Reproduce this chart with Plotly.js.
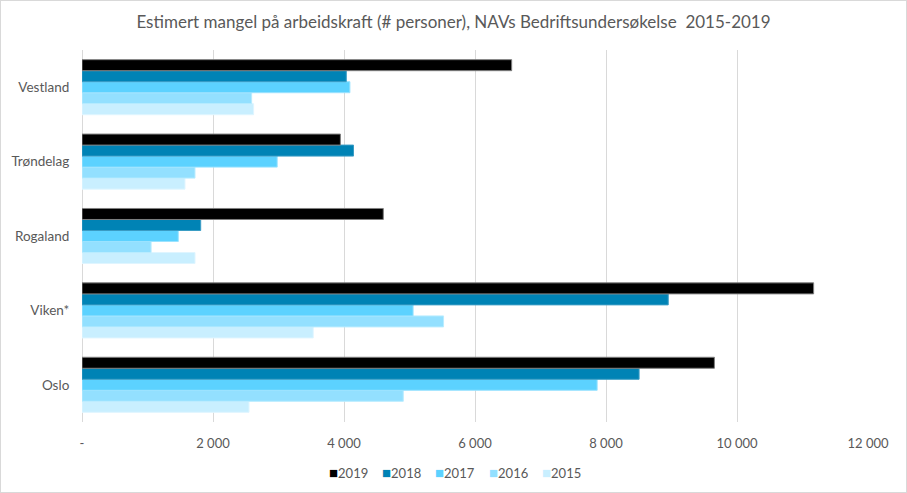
<!DOCTYPE html>
<html><head><meta charset="utf-8">
<script src="https://cdn.plot.ly/plotly-3.0.1.min.js"></script>
<style>body{margin:0;padding:0;background:#fff}#wrap{position:relative;width:907px;height:493px}#chart{width:907px;height:493px}#frame{position:absolute;left:0;top:0;width:907px;height:493px;box-sizing:border-box;border:1px solid #d9d9d9;pointer-events:none}</style>
</head><body>
<div id="wrap"><div id="chart"></div><div id="frame"></div></div>
<script>
// categories listed bottom to top (Plotly category axis)
const regions = ['Oslo', 'Viken*', 'Rogaland', 'Trøndelag', 'Vestland'];
const v2019 = [9655, 11170, 4600, 3945, 6560];
const v2018 = [8505, 8950, 1812, 4145, 4035];
const v2017 = [7865, 5055, 1470, 2980, 4090];
const v2016 = [4905, 5520, 1055, 1725, 2590];
const v2015 = [2550, 3530, 1725, 1572, 2620];
const years = ['2015', '2016', '2017', '2018', '2019'];
const colors = ['#c9efff', '#93e0ff', '#5cd2ff', '#0083b5', '#000000'];
const lines = ['#dff5ff', '#b9ecff', '#9be3ff', '#3a9cc4', '#7f7f7f'];
const tickVals = [0, 2000, 4000, 6000, 8000, 10000, 12000];
const tickText = ['-', '2 000', '4 000', '6 000', '8 000', '10 000', '12 000'];

const series = [v2015, v2016, v2017, v2018, v2019];
const traces = series.map((vals, i) => ({
  type: 'bar', orientation: 'h', name: years[i], y: regions, x: vals,
  marker: {color: colors[i], line: {color: lines[i], width: 1}},
  hoverinfo: 'x+name', showlegend: false
}));

// compact legend (Excel style), listed 2019 first
const legendOrder = [4, 3, 2, 1, 0];
const legendLeftPx = [327, 380, 433, 487, 540];
const plotL = 82, plotW = 786, plotTop = 50, plotH = 372;
const annotations = legendOrder.map((idx, k) => ({
  xref: 'paper', yref: 'paper',
  x: (legendLeftPx[k] - plotL) / plotW, y: -(471.5 - (plotTop + plotH)) / plotH,
  xanchor: 'left', yanchor: 'middle', showarrow: false,
  text: '<span style="color:' + colors[idx] + ';font-size:15px">■</span>' + years[idx],
  font: {size: 13, color: '#595959'}
}));

const layout = {
  width: 907, height: 493,
  margin: {l: plotL, r: 907 - plotL - plotW, t: plotTop, b: 493 - plotTop - plotH},
  paper_bgcolor: '#fff', plot_bgcolor: '#fff',
  font: {family: 'Lato, "Open Sans", sans-serif', color: '#595959', size: 13},
  title: {text: 'Estimert mangel på arbeidskraft (# personer), NAVs Bedriftsundersøkelse  2015-2019',
    font: {size: 17, color: '#595959'}, x: 0.5, xanchor: 'center', y: 0.955, yanchor: 'middle'},
  barmode: 'group', bargap: 0.26, bargroupgap: 0,
  xaxis: {range: [0, 12000], tickvals: tickVals, ticktext: tickText, showgrid: true,
    gridcolor: '#d9d9d9', gridwidth: 1, zeroline: true, zerolinecolor: '#d9d9d9', showline: false,
    ticks: '', ticklabelstandoff: 12, tickfont: {size: 13, color: '#595959'}, fixedrange: true},
  yaxis: {type: 'category', showgrid: false, zeroline: false, showline: false,
    ticks: 'outside', ticklen: 9, tickcolor: 'rgba(0,0,0,0)', tickfont: {size: 13.5, color: '#595959'}},
  annotations: annotations,
  showlegend: false
};
Plotly.newPlot('chart', traces, layout, {displayModeBar: false, staticPlot: true});
</script>
</body></html>
